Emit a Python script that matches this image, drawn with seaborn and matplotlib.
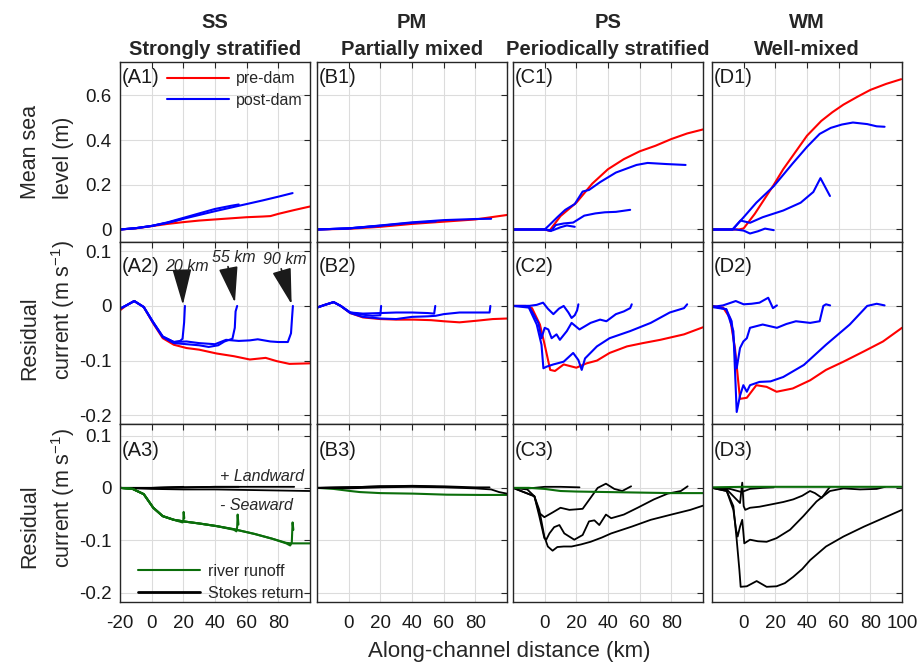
import matplotlib
matplotlib.use('Agg')
import matplotlib.pyplot as plt
import seaborn as sns
from matplotlib.lines import Line2D

# ---------------- DATA ----------------
col_codes = ['SS', 'PM', 'PS', 'WM']
col_names = ['Strongly stratified', 'Partially mixed', 'Periodically stratified', 'Well-mixed']
panel_letters = ['A', 'B', 'C', 'D']
dam_labels = ['20 km', '55 km', '90 km']
x_ticks = [-20, 0, 20, 40, 60, 80, 100]
msl_ticks = [0, 0.2, 0.4, 0.6]
msl_ticklabels = ['0', '0.2', '0.4', '0.6']
cur_ticks = [-0.2, -0.1, 0, 0.1]
cur_ticklabels = ['-0.2', '-0.1', '0', '0.1']

# Row 1: mean sea level (m)
a1_pre_x = [-20, -10, 0, 10, 20, 30, 40, 50, 60, 70, 75, 80, 90, 100]
a1_pre_y = [0, 0.005, 0.015, 0.025, 0.033, 0.04, 0.045, 0.05, 0.055, 0.058, 0.06, 0.07, 0.087, 0.103]
a1_p20_x = [-20, -10, 0, 10, 20]
a1_p20_y = [0, 0.006, 0.016, 0.03, 0.048]
a1_p55_x = [-20, -10, 0, 10, 20, 30, 40, 50, 55]
a1_p55_y = [0, 0.006, 0.016, 0.032, 0.052, 0.072, 0.092, 0.106, 0.112]
a1_p90_x = [-20, -10, 0, 10, 20, 30, 40, 50, 60, 70, 80, 89]
a1_p90_y = [0, 0.006, 0.016, 0.03, 0.048, 0.065, 0.082, 0.098, 0.114, 0.13, 0.147, 0.163]

b1_pre_x = [-20, 0, 20, 40, 60, 80, 100]
b1_pre_y = [0, 0.003, 0.012, 0.025, 0.035, 0.045, 0.065]
b1_p20_x = [-20, 0, 20]
b1_p20_y = [0, 0.005, 0.016]
b1_p55_x = [-20, 0, 20, 40, 55]
b1_p55_y = [0, 0.005, 0.017, 0.03, 0.036]
b1_p90_x = [-20, 0, 20, 40, 60, 80, 90]
b1_p90_y = [0, 0.005, 0.018, 0.032, 0.042, 0.047, 0.048]

c1_pre_x = [-20, -10, 0, 3, 10, 20, 30, 40, 50, 60, 70, 80, 90, 100]
c1_pre_y = [0, 0, 0, -0.006, 0.06, 0.12, 0.205, 0.27, 0.315, 0.35, 0.375, 0.405, 0.43, 0.448]
c1_p20_x = [-20, -10, 0, 5, 10, 14, 19]
c1_p20_y = [0, 0, 0, -0.004, 0.01, 0.018, 0.012]
c1_p55_x = [-20, -10, 0, 4, 7, 12, 18, 25, 32, 38, 45, 54]
c1_p55_y = [0, 0, 0, -0.007, 0.02, 0.027, 0.031, 0.062, 0.072, 0.077, 0.079, 0.088]
c1_p90_x = [-20, -10, 0, 3, 8, 13, 19, 24, 28, 35, 45, 58, 65, 77, 89]
c1_p90_y = [0, 0, 0, 0.02, 0.055, 0.088, 0.114, 0.17, 0.177, 0.212, 0.255, 0.289, 0.298, 0.293, 0.289]

d1_pre_x = [-20, -10, -3, 0, 7, 13, 19, 25, 32, 40, 49, 56, 63, 72, 80, 90, 99.5]
d1_pre_y = [0, 0, 0, 0.005, 0.07, 0.135, 0.2, 0.27, 0.34, 0.42, 0.486, 0.525, 0.559, 0.595, 0.625, 0.652, 0.673]
d1_p20_x = [-20, -10, -5, 0, 4, 9, 13.5, 19]
d1_p20_y = [0, 0, 0, -0.005, -0.018, -0.008, 0.004, -0.003]
d1_p55_x = [-20, -10, -7, -2, 4, 12, 25, 36, 44, 48.5, 54.5]
d1_p55_y = [0, 0, 0, 0.04, 0.03, 0.055, 0.085, 0.12, 0.168, 0.23, 0.15]
d1_p90_x = [-20, -10, -7, 0, 8, 19, 31, 40, 48, 55, 62, 69, 78, 84, 89]
d1_p90_y = [0, 0, 0, 0.055, 0.12, 0.194, 0.296, 0.37, 0.428, 0.455, 0.47, 0.479, 0.472, 0.462, 0.46]

# Row 2: residual current (m/s), pre-dam (red) vs post-dam (blue)
a2_pre_x = [-20, -16, -11, -5, 1, 7, 14, 22, 30, 41, 52, 62, 72, 79, 87, 100]
a2_pre_y = [-0.008, 0.001, 0.009, -0.002, -0.032, -0.059, -0.071, -0.077, -0.08, -0.087, -0.092, -0.098, -0.095, -0.101, -0.106, -0.105]
a2_p20_x = [-20, -16, -11, -5, 1, 7, 14, 18, 19.5, 20.5, 21]
a2_p20_y = [-0.005, 0.001, 0.009, -0.002, -0.03, -0.056, -0.066, -0.064, -0.06, -0.03, 0]
a2_p55_x = [-20, -16, -11, -5, 1, 7, 14, 22, 30, 36, 42, 46, 51, 52.5, 53, 54]
a2_p55_y = [-0.005, 0.001, 0.009, -0.002, -0.031, -0.057, -0.068, -0.07, -0.072, -0.075, -0.072, -0.065, -0.06, -0.04, -0.01, 0]
a2_p90_x = [-20, -16, -11, -5, 1, 7, 14, 22, 30, 40, 47, 55, 62, 67, 75, 80, 86, 88, 88.7, 89.2]
a2_p90_y = [-0.005, 0.001, 0.009, -0.002, -0.03, -0.056, -0.066, -0.065, -0.068, -0.07, -0.062, -0.064, -0.063, -0.061, -0.065, -0.066, -0.066, -0.05, -0.02, 0]

b2_pre_x = [-20, -15, -9.5, -5, 1, 9, 20, 30, 41, 52, 60, 70, 81, 91, 100]
b2_pre_y = [-0.003, 0.002, 0.007, 0.0, -0.013, -0.021, -0.024, -0.025, -0.025, -0.026, -0.028, -0.03, -0.027, -0.024, -0.023]
b2_p20_x = [-20, -15, -9.5, -5, 1, 9, 15, 20, 20.5]
b2_p20_y = [-0.003, 0.002, 0.007, 0.0, -0.012, -0.016, -0.018, -0.017, 0]
b2_p55_x = [-20, -15, -9.5, -5, 1, 9, 20, 30, 40, 50, 54, 54.7]
b2_p55_y = [-0.003, 0.002, 0.007, 0.0, -0.012, -0.014, -0.013, -0.012, -0.012, -0.013, -0.014, 0]
b2_p90_x = [-20, -15, -9.5, -5, 1, 9, 20, 30, 40, 50, 55, 60, 70, 80, 89, 89.5]
b2_p90_y = [-0.003, 0.002, 0.007, 0.0, -0.013, -0.02, -0.023, -0.024, -0.02, -0.019, -0.018, -0.015, -0.012, -0.012, -0.012, 0]

c2_pre_x = [-20, -12, -8, -3, 0, 3.5, 6.5, 12, 20, 26.5, 33, 41, 52, 62, 73, 88, 100]
c2_pre_y = [0, 0, -0.004, -0.034, -0.071, -0.117, -0.119, -0.107, -0.113, -0.105, -0.1, -0.086, -0.074, -0.068, -0.062, -0.052, -0.039]
c2_p20_x = [-20, -10, -5, -1, 2, 5.5, 9, 12, 15, 17, 19, 20.5, 21.3]
c2_p20_y = [0, 0, 0.002, 0.006, -0.005, -0.015, -0.005, 0.0, -0.012, -0.022, -0.017, -0.008, 0.003]
c2_p55_x = [-20, -10, -4, -2, 0, 2.3, 4.4, 7.5, 9.6, 14, 17, 22, 29, 35, 39, 45, 50, 54, 55]
c2_p55_y = [0, 0, -0.031, -0.059, -0.04, -0.043, -0.059, -0.052, -0.062, -0.046, -0.031, -0.043, -0.031, -0.025, -0.028, -0.015, -0.01, -0.004, 0.003]
c2_p90_x = [-20, -10, -5, -2, -0.8, 1.3, 5.5, 12, 18, 21.3, 23.4, 25.5, 33, 41, 54, 67, 79, 88, 90]
c2_p90_y = [0, -0.003, -0.034, -0.071, -0.114, -0.111, -0.107, -0.102, -0.086, -0.099, -0.117, -0.096, -0.074, -0.059, -0.046, -0.031, -0.012, -0.004, 0.003]

d2_pre_x = [-20, -13, -8.6, -5.5, -3.4, -2.3, 2, 8, 14.5, 20.8, 31, 42, 52, 63, 76, 88, 100]
d2_pre_y = [0, -0.003, -0.022, -0.077, -0.139, -0.17, -0.168, -0.145, -0.148, -0.157, -0.151, -0.136, -0.117, -0.102, -0.083, -0.065, -0.04]
d2_p20_x = [-20, -13, -8, -5, 0, 5, 10, 15.5, 18.5, 21]
d2_p20_y = [-0.002, 0.001, 0.006, 0.009, 0.003, 0.004, 0.006, 0.015, -0.004, 0.001]
d2_p55_x = [-20, -11, -7.6, -4.4, -2.3, -0.2, 2, 4, 12, 21, 27, 33, 42, 48, 50.3, 52, 54.6]
d2_p55_y = [-0.002, -0.006, -0.028, -0.114, -0.077, -0.065, -0.059, -0.04, -0.034, -0.04, -0.033, -0.028, -0.031, -0.028, 0.0, 0.003, 0.001]
d2_p90_x = [-20, -11, -6.5, -4.4, -2.3, -0.2, 2, 4, 10, 17, 25, 38, 52, 67, 78, 84, 89]
d2_p90_y = [0, -0.006, -0.046, -0.194, -0.164, -0.145, -0.157, -0.145, -0.139, -0.138, -0.13, -0.108, -0.071, -0.034, 0.0, 0.004, 0.001]

# Row 3: river runoff (green) and Stokes return (black)
a3_run_pre_x = [-20, -12, -5, 1, 7, 14, 20, 30, 41, 52, 65, 76, 85, 88, 100]
a3_run_pre_y = [0, -0.002, -0.012, -0.038, -0.054, -0.061, -0.064, -0.068, -0.073, -0.079, -0.088, -0.097, -0.105, -0.106, -0.106]
a3_run_p20_x = [-20, -12, -5, 1, 7, 14, 19.5, 20, 20.2, 20.6]
a3_run_p20_y = [0, -0.002, -0.012, -0.038, -0.054, -0.061, -0.066, -0.062, -0.046, -0.058]
a3_run_p55_x = [-20, -12, -5, 1, 7, 14, 20, 30, 41, 52, 53.5, 54, 54.3, 54.8]
a3_run_p55_y = [0, -0.002, -0.012, -0.038, -0.054, -0.061, -0.064, -0.068, -0.073, -0.08, -0.083, -0.075, -0.051, -0.07]
a3_run_p90_x = [-20, -12, -5, 1, 7, 14, 20, 30, 41, 52, 65, 76, 85, 87.5, 88.5, 89, 89.5]
a3_run_p90_y = [0, -0.002, -0.012, -0.038, -0.054, -0.061, -0.064, -0.068, -0.073, -0.079, -0.088, -0.097, -0.106, -0.11, -0.104, -0.066, -0.08]
a3_stk_pre_x = [-20, 0, 20, 40, 60, 80, 100]
a3_stk_pre_y = [0, -0.002, -0.003, -0.003, -0.004, -0.005, -0.006]
a3_stk_p20_x = [-20, 0, 10, 20]
a3_stk_p20_y = [0, 0.0, 0.001, 0.002]
a3_stk_p55_x = [-20, 0, 20, 40, 55]
a3_stk_p55_y = [0, 0, 0.001, 0.002, 0.002]
a3_stk_p90_x = [-20, 0, 20, 40, 60, 80, 90]
a3_stk_p90_y = [0, 0, 0.001, 0.002, 0.002, 0.002, 0.002]

b3_run_x = [-20, -9.5, 1, 7, 20, 41, 62, 83, 100]
b3_run_y = [0, -0.002, -0.006, -0.008, -0.01, -0.011, -0.013, -0.0135, -0.0135]
b3_stk_pre_x = [-20, 0, 20, 40, 60, 80, 90, 95, 100]
b3_stk_pre_y = [0, -0.001, 0.001, 0.002, 0.001, -0.001, -0.003, -0.008, -0.011]
b3_stk_p20_x = [-20, 0, 20]
b3_stk_p20_y = [0, 0.001, 0.002]
b3_stk_p55_x = [-20, 0, 20, 40, 55]
b3_stk_p55_y = [0, 0.001, 0.003, 0.003, 0.002]
b3_stk_p90_x = [-20, 0, 20, 40, 60, 80, 89]
b3_stk_p90_y = [0, 0.001, 0.003, 0.004, 0.003, 0.001, 0.001]

c3_run_x = [-20, -10, 0, 10, 20, 40, 60, 80, 100]
c3_run_y = [0, 0, -0.002, -0.006, -0.007, -0.008, -0.009, -0.01, -0.01]
c3_stk_pre_x = [-20, -11, -6.5, -3.4, -0.2, 2, 5, 8, 12, 17, 23, 29, 36, 42, 55, 67, 80, 92, 100]
c3_stk_pre_y = [0, -0.003, -0.016, -0.042, -0.093, -0.112, -0.12, -0.113, -0.112, -0.112, -0.108, -0.103, -0.095, -0.087, -0.074, -0.061, -0.051, -0.042, -0.034]
c3_stk_p20_x = [-20, -10, 0, 10, 22]
c3_stk_p20_y = [0, -0.001, 0.002, 0.002, 0.001]
c3_stk_p55_x = [-20, -6.5, -3.4, -0.2, 5, 10, 15.6, 20, 24, 29, 33.5, 38.7, 44, 49, 54.6]
c3_stk_p55_y = [0, -0.016, -0.048, -0.056, -0.047, -0.038, -0.042, -0.041, -0.04, -0.019, 0.0, 0.008, -0.002, -0.006, 0.003]
c3_stk_p90_x = [-20, -6.5, -3.4, -0.2, 1, 3, 6, 9.3, 12.4, 18.7, 24, 28, 31.4, 34.5, 38.7, 42, 50, 58.7, 69, 77.7, 86, 90.3]
c3_stk_p90_y = [0, -0.016, -0.054, -0.096, -0.099, -0.087, -0.075, -0.071, -0.087, -0.099, -0.09, -0.064, -0.062, -0.071, -0.051, -0.058, -0.051, -0.038, -0.022, -0.011, -0.006, 0.003]

d3_run_x = [-20, 0, 50, 100]
d3_run_y = [0.001, 0.002, 0.002, 0.002]
d3_stk_pre_x = [-20, -10.7, -6.5, -4.4, -2.7, -1.9, 2, 8.2, 14.5, 20.8, 26, 31.3, 37, 42, 52, 63, 76, 88, 100]
d3_stk_pre_y = [0, -0.006, -0.035, -0.099, -0.157, -0.189, -0.188, -0.178, -0.189, -0.188, -0.182, -0.17, -0.155, -0.138, -0.112, -0.093, -0.074, -0.058, -0.042]
d3_stk_p20_x = [-20, -8.6, -1.3, 4, 12, 19]
d3_stk_p20_y = [0, -0.002, -0.008, -0.002, 0.0, 0.001]
d3_stk_p55_x = [-20, -10.7, -6.5, -2.3, -0.9, 0, 1, 4, 10, 16.7, 25, 31.3, 37, 41.9, 45, 49.3, 52, 54.5]
d3_stk_p55_y = [0, -0.003, -0.016, -0.029, 0.01, -0.035, -0.042, -0.038, -0.036, -0.032, -0.027, -0.022, -0.015, -0.006, -0.01, -0.019, -0.008, 0.002]
d3_stk_p90_x = [-20, -10.7, -6.5, -4.8, -3.8, -2.3, -0.9, 0.4, 4, 9, 14.5, 20.8, 29.3, 37.7, 46, 54.5, 63, 73.5, 84, 89.3]
d3_stk_p90_y = [0, -0.006, -0.042, -0.08, -0.093, -0.074, -0.061, -0.106, -0.099, -0.102, -0.103, -0.096, -0.08, -0.054, -0.026, -0.006, -0.001, -0.003, -0.002, 0.002]

# ---------------- STYLE ----------------
sns.set_theme(style='white')
plt.rcParams['font.family'] = ['Liberation Sans', 'DejaVu Sans']
plt.rcParams['axes.unicode_minus'] = False
plt.rcParams['mathtext.fontset'] = 'custom'
plt.rcParams['mathtext.rm'] = 'Liberation Sans'
plt.rcParams['mathtext.it'] = 'Liberation Sans:italic'

RED, BLUE, GREEN, BLACK = '#ff0000', '#0000ff', '#0b6e0b', '#000000'
EDGE = '#262626'
W, H = 921, 668

fig = plt.figure(figsize=(9.21, 6.68), dpi=100)
fig.patch.set_facecolor('white')

col_left = [120, 317, 513, 712]
col_w = 190
row_top = [62, 242, 424]
row_bot = [242, 424, 602]


def draw(ax, x, y, color, lw=1.5):
    sns.lineplot(x=x, y=y, ax=ax, color=color, linewidth=lw, sort=False,
                 estimator=None, legend=False)


rows = [
    [  # row 1
        [(a1_pre_x, a1_pre_y, RED), (a1_p20_x, a1_p20_y, BLUE), (a1_p55_x, a1_p55_y, BLUE), (a1_p90_x, a1_p90_y, BLUE)],
        [(b1_pre_x, b1_pre_y, RED), (b1_p20_x, b1_p20_y, BLUE), (b1_p55_x, b1_p55_y, BLUE), (b1_p90_x, b1_p90_y, BLUE)],
        [(c1_pre_x, c1_pre_y, RED), (c1_p20_x, c1_p20_y, BLUE), (c1_p55_x, c1_p55_y, BLUE), (c1_p90_x, c1_p90_y, BLUE)],
        [(d1_pre_x, d1_pre_y, RED), (d1_p20_x, d1_p20_y, BLUE), (d1_p55_x, d1_p55_y, BLUE), (d1_p90_x, d1_p90_y, BLUE)],
    ],
    [  # row 2
        [(a2_pre_x, a2_pre_y, RED), (a2_p20_x, a2_p20_y, BLUE), (a2_p55_x, a2_p55_y, BLUE), (a2_p90_x, a2_p90_y, BLUE)],
        [(b2_pre_x, b2_pre_y, RED), (b2_p20_x, b2_p20_y, BLUE), (b2_p55_x, b2_p55_y, BLUE), (b2_p90_x, b2_p90_y, BLUE)],
        [(c2_pre_x, c2_pre_y, RED), (c2_p20_x, c2_p20_y, BLUE), (c2_p55_x, c2_p55_y, BLUE), (c2_p90_x, c2_p90_y, BLUE)],
        [(d2_pre_x, d2_pre_y, RED), (d2_p20_x, d2_p20_y, BLUE), (d2_p55_x, d2_p55_y, BLUE), (d2_p90_x, d2_p90_y, BLUE)],
    ],
    [  # row 3
        [(a3_stk_pre_x, a3_stk_pre_y, BLACK), (a3_stk_p20_x, a3_stk_p20_y, BLACK), (a3_stk_p55_x, a3_stk_p55_y, BLACK),
         (a3_stk_p90_x, a3_stk_p90_y, BLACK), (a3_run_pre_x, a3_run_pre_y, GREEN), (a3_run_p20_x, a3_run_p20_y, GREEN),
         (a3_run_p55_x, a3_run_p55_y, GREEN), (a3_run_p90_x, a3_run_p90_y, GREEN)],
        [(b3_run_x, b3_run_y, GREEN), (b3_stk_pre_x, b3_stk_pre_y, BLACK), (b3_stk_p20_x, b3_stk_p20_y, BLACK),
         (b3_stk_p55_x, b3_stk_p55_y, BLACK), (b3_stk_p90_x, b3_stk_p90_y, BLACK)],
        [(c3_stk_pre_x, c3_stk_pre_y, BLACK), (c3_stk_p20_x, c3_stk_p20_y, BLACK), (c3_stk_p55_x, c3_stk_p55_y, BLACK),
         (c3_stk_p90_x, c3_stk_p90_y, BLACK), (c3_run_x, c3_run_y, GREEN)],
        [(d3_stk_pre_x, d3_stk_pre_y, BLACK), (d3_stk_p20_x, d3_stk_p20_y, BLACK), (d3_stk_p55_x, d3_stk_p55_y, BLACK),
         (d3_stk_p90_x, d3_stk_p90_y, BLACK), (d3_run_x, d3_run_y, GREEN)],
    ],
]

ylims = [(-0.056, 0.75), (-0.216, 0.117), (-0.218, 0.122)]
label_y = [0.68, 0.072, 0.072]
axes = {}
for r in range(3):
    for c in range(4):
        l = col_left[c] / W
        b = 1 - row_bot[r] / H
        h = (row_bot[r] - row_top[r]) / H
        ax = fig.add_axes([l, b, col_w / W, h])
        axes[(r, c)] = ax
        for (xs, ys, colr) in rows[r][c]:
            draw(ax, xs, ys, colr, 1.3 if colr == BLACK else 1.5)
        ax.set_xlim(-20, 100)
        ax.set_ylim(*ylims[r])
        ax.set_xticks(x_ticks)
        if r == 0:
            ax.set_yticks(msl_ticks)
            ax.set_yticklabels(msl_ticklabels)
        else:
            ax.set_yticks(cur_ticks)
            ax.set_yticklabels(cur_ticklabels)
        if r == 2:
            if c == 0:
                xl = ['-20', '0', '20', '40', '60', '80', '']
            elif c == 3:
                xl = ['', '0', '20', '40', '60', '80', '100']
            else:
                xl = ['', '0', '20', '40', '60', '80', '']
            ax.set_xticklabels(xl)
        ax.grid(True, color='#dcdcdc', linewidth=0.8)
        ax.set_axisbelow(True)
        ax.tick_params(direction='in', top=True, right=True, length=4, width=0.8,
                       color=EDGE, labelsize=13.5, labelcolor='#1a1a1a',
                       labelbottom=(r == 2), labelleft=(c == 0))
        ax.tick_params(axis='x', pad=9)
        ax.tick_params(axis='y', pad=6)
        for s in ax.spines.values():
            s.set_color(EDGE)
            s.set_linewidth(1.0)
        ax.set_xlabel('')
        ax.set_ylabel('')
        ax.text(-18.6, label_y[r], f'({panel_letters[c]}{r + 1})', fontsize=14.5,
                ha='left', va='center', color='#1a1a1a')

# Legends
axA1 = axes[(0, 0)]
axA1.legend([Line2D([], [], color=RED, lw=1.5), Line2D([], [], color=BLUE, lw=1.5)],
            ['pre-dam', 'post-dam'], loc='upper left', bbox_to_anchor=(0.245, 0.948),
            frameon=False, fontsize=11.5, handlelength=3.9, handletextpad=0.45,
            labelspacing=0.4, borderpad=0, borderaxespad=0)
axA3 = axes[(2, 0)]
axA3.legend([Line2D([], [], color=GREEN, lw=1.5), Line2D([], [], color=BLACK, lw=2.0)],
            ['river runoff', 'Stokes return'], loc='upper left', bbox_to_anchor=(0.095, 0.215),
            frameon=False, fontsize=11.5, handlelength=3.9, handletextpad=0.45,
            labelspacing=0.45, borderpad=0, borderaxespad=0)
axA3.text(43, 0.022, '+ Landward', style='italic', fontsize=11.5, ha='left', va='center')
axA3.text(43, -0.034, '- Seaward', style='italic', fontsize=11.5, ha='left', va='center')

# Dam arrows in A2
axA2 = axes[(1, 0)]
arrow_tail = [(19.2, 0.055), (48.2, 0.072), (81.8, 0.068)]
arrow_tip = [(19.7, 0.002), (52.6, 0.006), (88.4, 0.003)]
label_pos = [(22.0, 0.073), (51.7, 0.089), (84.2, 0.085)]
for lab, tl, tp, lp in zip(dam_labels, arrow_tail, arrow_tip, label_pos):
    axA2.annotate('', xy=tp, xytext=tl,
                  arrowprops=dict(arrowstyle='-|>,head_length=0.9,head_width=0.24',
                                  mutation_scale=25, color='k', lw=1.2, shrinkA=0, shrinkB=0))
    axA2.text(lp[0], lp[1], lab, style='italic', fontsize=11.5, ha='center', va='center')

# Column titles
for c in range(4):
    xc = (col_left[c] + col_w / 2) / W
    fig.text(xc, 1 - 28 / H, col_codes[c], ha='center', va='baseline',
             fontsize=14.5, fontweight='bold')
    fig.text(xc, 1 - 55 / H, col_names[c], ha='center', va='baseline',
             fontsize=14.5, fontweight='bold')

# Y labels (two lines each)
ylab_lines = [('Mean sea', 'level (m)'),
              ('Residual', 'current (m s$^{-1}$)'),
              ('Residual', 'current (m s$^{-1}$)')]
ylab_bottom = [199, 380, 568]
for (l1, l2), yb in zip(ylab_lines, ylab_bottom):
    fig.text(30 / W, 1 - yb / H, l1, rotation=90, ha='center', va='bottom', fontsize=15.5)
    fig.text(63 / W, 1 - yb / H, l2, rotation=90, ha='center', va='bottom', fontsize=15.5)

fig.text(509.5 / W, 1 - 652 / H, 'Along-channel distance (km)', ha='center', va='center', fontsize=16)

fig.savefig('out.png', dpi=100, facecolor='white')
